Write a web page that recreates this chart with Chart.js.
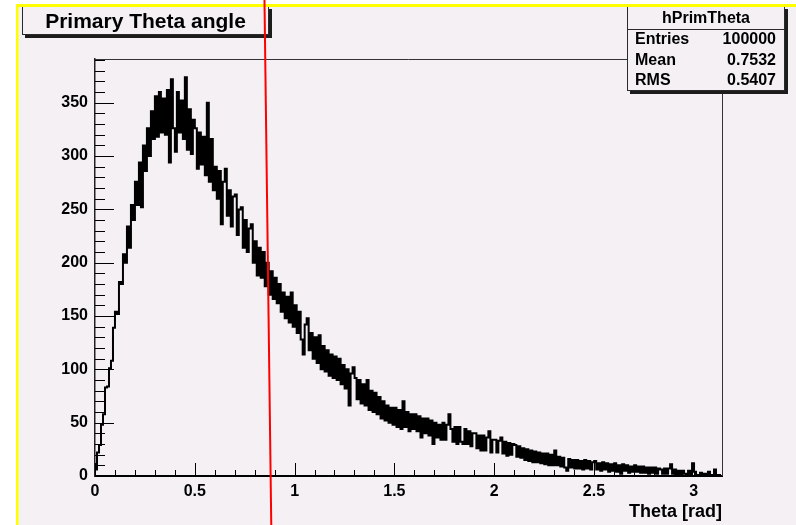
<!DOCTYPE html>
<html><head><meta charset="utf-8">
<script src="https://cdn.jsdelivr.net/npm/chart.js@4.4.1/dist/chart.umd.min.js"></script>
<style>html,body{margin:0;padding:0;background:#fff;}canvas{display:block;}</style>
</head><body>
<canvas id="c" width="796" height="525" style="width:796px;height:525px"></canvas>
<script>
// ---------------- data ----------------
const histTitle = 'Primary Theta angle';
const histName = 'hPrimTheta';
const xAxisTitle = 'Theta [rad]';
const xRange = [0, 3.1416];
const yRange = [0, 391];
// bin contents, bins of equal width over xRange
const binCounts = [
  6, 22, 29, 48, 58, 83, 84, 101, 108, 139,
  154, 152, 182, 180, 208, 200, 234, 214, 254, 240,
  276, 254, 294, 252, 310, 286, 326, 300, 342, 316,
  356, 318, 360, 322, 354, 320, 362, 294, 372, 326,
  304, 360, 322, 352, 316, 374, 306, 344, 302, 334,
  326, 288, 322, 292, 318, 282, 350, 276, 316, 268,
  290, 260, 286, 236, 276, 288, 244, 268, 234, 262,
  264, 226, 250, 252, 214, 240, 210, 232, 236, 200,
  220, 188, 214, 186, 210, 178, 200, 170, 192, 166,
  186, 162, 180, 154, 172, 148, 168, 144, 172, 140,
  160, 134, 154, 128, 114, 142, 148, 118, 134, 110,
  130, 106, 132, 100, 122, 98, 118, 94, 114, 92,
  112, 90, 110, 86, 104, 82, 100, 66, 96, 102,
  92, 72, 90, 68, 86, 66, 90, 62, 80, 60,
  78, 58, 74, 54, 70, 52, 66, 50, 64, 48,
  64, 46, 62, 44, 70, 46, 60, 42, 58, 44,
  58, 42, 56, 36, 54, 40, 54, 38, 52, 30,
  50, 36, 48, 34, 50, 34, 48, 58, 44, 32,
  46, 30, 46, 32, 30, 44, 30, 42, 28, 40,
  40, 26, 38, 24, 38, 24, 36, 42, 22, 34,
  34, 22, 33, 36, 21, 32, 19, 31, 20, 30,
  29, 18, 28, 17, 26, 15, 25, 14, 24, 13,
  23, 13, 22, 12, 21, 11, 21, 10, 20, 10,
  24, 10, 18, 9, 17, 8, 5, 16, 8, 15,
  7, 15, 7, 14, 6, 15, 7, 14, 6, 13,
  14, 6, 12, 5, 13, 6, 12, 4, 11, 5,
  12, 4, 10, 2, 11, 5, 10, 3, 9, 4,
  10, 4, 9, 3, 9, 3, 8, 2, 8, 3,
  8, 2, 7, 6, 2, 7, 2, 7, 11, 2,
  6, 1, 5, 1, 5, 2, 1, 5, 1, 12,
  4, 1, 0, 3, 0, 2, 0, 4, 0, 1,
  6, 0, 1, 0
];
const xMajorTicks = [0, 0.5, 1, 1.5, 2, 2.5, 3];
const xTickLabels = ['0', '0.5', '1', '1.5', '2', '2.5', '3'];
const xMinorStep = 0.1;
const yMajorTicks = [0, 50, 100, 150, 200, 250, 300, 350];
const yTickLabels = ['0', '50', '100', '150', '200', '250', '300', '350'];
const yMinorStep = 10;
const statsLabels = ['Entries', 'Mean', 'RMS'];
const statsValues = ['100000', '0.7532', '0.5407'];
// red cursor line, in data coordinates (two points it passes through)
const cursorLine = [{x: 0.853, y: 391}, {x: 0.880, y: 0}];

// ---------------- build ----------------
const FONT = '"Liberation Sans", Arial, Helvetica, sans-serif';
const nBins = binCounts.length;
const binW = (xRange[1] - xRange[0]) / nBins;
const histPoints = binCounts.map((v, i) => ({x: xRange[0] + i * binW, y: v}));
histPoints.push({x: xRange[1], y: binCounts[nBins - 1]});

function majorIndex(list, v) {
  return list.findIndex(m => Math.abs(m - v) < 1e-6);
}
const xTickValues = [];
for (let i = 0; i * xMinorStep <= xRange[1] + 1e-9; i++) xTickValues.push(+(i * xMinorStep).toFixed(4));
const yTickValues = [];
for (let i = 0; i * yMinorStep <= yRange[1] + 1e-9; i++) yTickValues.push(i * yMinorStep);

const BG = '#f4f0f4';

function drawBox(ctx, x, y, w, h) {
  ctx.fillStyle = '#1c1c1c';
  ctx.fillRect(x + 3, y + 3, w, h);
  ctx.fillStyle = BG;
  ctx.fillRect(x, y, w, h);
  ctx.strokeStyle = '#2a2a2a';
  ctx.lineWidth = 1;
  ctx.strokeRect(x + 0.5, y + 0.5, w - 1, h - 1);
}

const rootPlugin = {
  id: 'rootStyle',
  beforeDraw(chart) {
    const ctx = chart.ctx;
    ctx.save();
    ctx.fillStyle = '#ffffff';
    ctx.fillRect(0, 0, chart.width, chart.height);
    ctx.fillStyle = BG;
    ctx.fillRect(17, 6, chart.width - 17, chart.height - 6);
    ctx.restore();
  },
  afterDatasetsDraw(chart) {
    const {ctx, chartArea: a, scales: {x, y}} = chart;
    ctx.save();
    // inward tick marks
    ctx.strokeStyle = '#000';
    ctx.lineWidth = 1;
    x.ticks.forEach(t => {
      const px = Math.round(x.getPixelForValue(t.value)) + 0.5;
      const len = majorIndex(xMajorTicks, t.value) >= 0 ? 13 : 6;
      ctx.beginPath(); ctx.moveTo(px, a.bottom); ctx.lineTo(px, a.bottom - len); ctx.stroke();
    });
    y.ticks.forEach(t => {
      const py = Math.round(y.getPixelForValue(t.value)) + 0.5;
      const len = majorIndex(yMajorTicks, t.value) >= 0 ? 19 : 10;
      ctx.beginPath(); ctx.moveTo(a.left, py); ctx.lineTo(a.left + len, py); ctx.stroke();
    });
    // frame top & right
    ctx.strokeStyle = '#333';
    ctx.beginPath();
    ctx.moveTo(a.left, a.top + 0.5);
    ctx.lineTo(a.right + 0.5, a.top + 0.5);
    ctx.lineTo(a.right + 0.5, a.bottom);
    ctx.stroke();
    // x axis title
    ctx.fillStyle = '#000';
    ctx.font = 'bold 18px ' + FONT;
    ctx.textAlign = 'right';
    ctx.textBaseline = 'alphabetic';
    ctx.fillText(xAxisTitle, a.right, 517);
    ctx.restore();
  },
  afterDraw(chart) {
    const {ctx, scales: {x, y}} = chart;
    ctx.save();
    // title box
    drawBox(ctx, 22, 6, 247, 29);
    ctx.fillStyle = '#000';
    ctx.font = 'bold 21px ' + FONT;
    ctx.textAlign = 'center';
    ctx.textBaseline = 'middle';
    ctx.fillText(histTitle, 145.5, 22);
    // stats box
    drawBox(ctx, 627, 6, 158, 85);
    ctx.strokeStyle = '#2a2a2a';
    ctx.beginPath(); ctx.moveTo(627, 29.5); ctx.lineTo(785, 29.5); ctx.stroke();
    ctx.fillStyle = '#000';
    ctx.font = 'bold 16px ' + FONT;
    ctx.textAlign = 'center';
    ctx.fillText(histName, 706, 18.5);
    const rowsY = [40, 60.5, 81];
    statsLabels.forEach((lab, i) => {
      ctx.textAlign = 'left';
      ctx.fillText(lab, 635, rowsY[i]);
      ctx.textAlign = 'right';
      ctx.fillText(statsValues[i], 776, rowsY[i]);
    });
    // yellow highlight border
    ctx.fillStyle = '#ffff00';
    ctx.fillRect(16, 4, chart.width - 16, 3);
    ctx.fillRect(16, 4, 2.5, chart.height - 4);
    // red cursor line (via scales, extended to canvas edges)
    const x0 = x.getPixelForValue(cursorLine[0].x), y0 = y.getPixelForValue(cursorLine[0].y);
    const x1 = x.getPixelForValue(cursorLine[1].x), y1 = y.getPixelForValue(cursorLine[1].y);
    const k = (x1 - x0) / (y1 - y0);
    ctx.strokeStyle = '#ff0000';
    ctx.lineWidth = 2;
    ctx.beginPath();
    ctx.moveTo(x0 + k * (0 - y0), 0);
    ctx.lineTo(x0 + k * (chart.height - y0), chart.height);
    ctx.stroke();
    ctx.restore();
  }
};

const tickFont = {family: FONT, size: 16, weight: 'bold'};

new Chart(document.getElementById('c'), {
  type: 'line',
  data: {
    datasets: [{
      data: histPoints,
      borderColor: '#000',
      borderWidth: 2,
      pointRadius: 0,
      fill: false,
      stepped: 'before',
      tension: 0
    }]
  },
  options: {
    responsive: false,
    animation: false,
    devicePixelRatio: 1,
    layout: {padding: {left: 0, top: 59, right: 74, bottom: 0}},
    plugins: {legend: {display: false}, tooltip: {enabled: false}, title: {display: false}},
    scales: {
      x: {
        type: 'linear',
        min: xRange[0], max: xRange[1],
        afterFit: s => { s.height = 49; },
        afterBuildTicks: s => { s.ticks = xTickValues.map(v => ({value: v})); },
        grid: {display: false, drawTicks: false},
        border: {display: true, color: '#000', width: 2},
        ticks: {
          autoSkip: false, maxRotation: 0, minRotation: 0, padding: 6,
          color: '#000', font: tickFont,
          callback: v => { const i = majorIndex(xMajorTicks, v); return i >= 0 ? xTickLabels[i] : ''; }
        }
      },
      y: {
        type: 'linear',
        min: yRange[0], max: yRange[1],
        afterFit: s => { s.width = 95; },
        afterBuildTicks: s => { s.ticks = yTickValues.map(v => ({value: v})); },
        grid: {display: false, drawTicks: false},
        border: {display: true, color: '#222', width: 1.5},
        ticks: {
          autoSkip: false, padding: 7,
          color: '#000', font: tickFont,
          callback: v => { const i = majorIndex(yMajorTicks, v); return i >= 0 ? yTickLabels[i] : ''; }
        }
      }
    }
  },
  plugins: [rootPlugin]
});
</script>
</body></html>
